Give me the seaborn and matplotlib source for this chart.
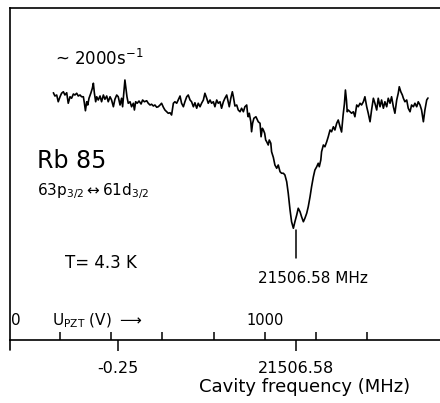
import numpy as np
import pandas as pd
import matplotlib
matplotlib.use("Agg")
import matplotlib.pyplot as plt
import matplotlib.transforms as mtransforms
import seaborn as sns

# ---- data ----
# piezo voltage U_PZT (V)
u_pzt = [175, 181, 188, 194, 201, 207, 214, 220, 227, 233,
         240, 246, 253, 259, 266, 272, 279, 285, 292, 296,
         300, 305, 309, 314, 321, 327, 331, 335, 340, 344,
         350, 357, 363, 370, 376, 383, 389, 396, 402, 409,
         415, 422, 428, 435, 441, 445, 449, 454, 458, 462,
         467, 474, 480, 487, 491, 496, 502, 509, 517, 523,
         530, 539, 545, 552, 558, 565, 571, 578, 584, 591,
         597, 604, 610, 617, 623, 630, 636, 643, 649, 656,
         662, 669, 675, 682, 688, 695, 701, 708, 714, 721,
         727, 734, 740, 747, 753, 760, 766, 773, 779, 786,
         792, 799, 805, 812, 818, 825, 831, 838, 844, 851,
         857, 861, 867, 873, 877, 883, 890, 896, 903, 909,
         916, 922, 929, 933, 935, 939, 945, 948, 952, 957,
         965, 974, 981, 985, 990, 994, 999, 1003, 1007, 1013,
         1017, 1023, 1026, 1033, 1039, 1046, 1052, 1059, 1065, 1072,
         1078, 1085, 1091, 1098, 1104, 1111, 1117, 1124, 1130, 1137,
         1143, 1150, 1156, 1163, 1169, 1176, 1182, 1189, 1195, 1202,
         1208, 1212, 1218, 1221, 1228, 1234, 1241, 1247, 1254, 1260,
         1267, 1273, 1280, 1286, 1293, 1299, 1305, 1310, 1314, 1318,
         1321, 1325, 1332, 1338, 1345, 1351, 1358, 1364, 1371, 1377,
         1384, 1390, 1397, 1403, 1410, 1416, 1423, 1429, 1436, 1442,
         1449, 1455, 1462, 1468, 1475, 1481, 1488, 1494, 1501, 1507,
         1514, 1520, 1524, 1530, 1536, 1540, 1546, 1553, 1559, 1566,
         1572, 1579, 1585, 1592, 1598, 1605, 1611, 1618, 1624, 1631,
         1636]
# count rate (s^-1)
rate = [1986, 1960, 1968, 1914, 1954, 1982, 1994, 1968, 1986, 1902,
        1954, 1942, 1976, 1968, 1982, 1960, 1968, 1954, 1954, 1902,
        1842, 1914, 1888, 1942, 1982, 2022, 2062, 1982, 1914, 1954,
        1928, 1960, 1914, 1968, 1934, 1960, 1914, 1954, 1928, 1874,
        1934, 1968, 1954, 1888, 1942, 1874, 1968, 2088, 2022, 1954,
        1902, 1914, 1874, 1902, 1848, 1914, 1902, 1920, 1896, 1928,
        1914, 1922, 1902, 1888, 1894, 1880, 1888, 1870, 1874, 1888,
        1902, 1870, 1848, 1834, 1822, 1826, 1808, 1902, 1914, 1902,
        1928, 1960, 1902, 1874, 1914, 1954, 1968, 1928, 1914, 1874,
        1906, 1862, 1902, 1874, 1902, 1928, 1982, 1942, 1902, 1928,
        1902, 1914, 1874, 1928, 1902, 1914, 1862, 1914, 1942, 1968,
        1914, 1874, 1942, 1994, 1954, 1880, 1888, 1848, 1834, 1862,
        1834, 1874, 1888, 1808, 1794, 1822, 1754, 1674, 1742, 1782,
        1794, 1754, 1742, 1634, 1702, 1688, 1662, 1608, 1594, 1568,
        1608, 1582, 1514, 1468, 1408, 1382, 1408, 1354, 1342, 1342,
        1328, 1274, 1182, 1048, 954, 902, 954, 1008, 1062, 1034,
        994, 954, 982, 1022, 1074, 1154, 1234, 1314, 1368, 1394,
        1422, 1394, 1448, 1514, 1568, 1554, 1594, 1634, 1688, 1674,
        1714, 1688, 1742, 1768, 1714, 1672, 1808, 1896, 2008, 1928,
        1834, 1848, 1834, 1822, 1834, 1794, 1888, 1874, 1902, 1888,
        1914, 1954, 1874, 1822, 1754, 1848, 1942, 1902, 1848, 1942,
        1874, 1928, 1862, 1914, 1874, 1942, 1902, 1954, 1874, 1822,
        1928, 1982, 2034, 1994, 1968, 1942, 1914, 1928, 1862, 1834,
        1888, 1874, 1902, 1874, 1914, 1888, 1848, 1754, 1848, 1928,
        1944]

upzt_ticks = [200, 400, 600, 800, 1000, 1200, 1400]
upzt_label_zero = "0"
upzt_label_value = 1000
upzt_label_text = "1000"
freq_tick_pos = [428, 1121]            # in U_PZT (V)
freq_tick_labels = ["-0.25", "21506.58"]
resonance_label = "21506.58 MHz"

df = pd.DataFrame({"U": u_pzt, "rate": rate})

# ---- style ----
sns.set_theme(style="white")
plt.rcParams["font.family"] = ["DejaVu Sans"]
plt.rcParams["mathtext.fontset"] = "dejavusans"
plt.rcParams["text.color"] = "black"
plt.rcParams["axes.labelcolor"] = "black"
plt.rcParams["xtick.color"] = "black"
plt.rcParams["xtick.labelcolor"] = "black"

W, H = 440, 403
fig = plt.figure(figsize=(W / 100, H / 100), dpi=100)
fig.patch.set_facecolor("white")
ax = fig.add_axes([10 / W, (H - 340) / H, 430 / W, 332 / H])
ax.set_facecolor("white")

sns.lineplot(data=df, x="U", y="rate", ax=ax, color="black", lw=1.2,
             sort=False, estimator=None)

ax.set_xlim(5.85, 1682.85)
ax.set_ylim(8, 2664)

for s in ["left", "top", "bottom"]:
    ax.spines[s].set_visible(True)
    ax.spines[s].set_color("black")
    ax.spines[s].set_linewidth(1.2)
ax.spines["right"].set_visible(False)

# left frame line extends slightly below the axis
ax.plot([0, 0], [0, -10 / 332], transform=ax.transAxes, color="black",
        lw=1.2, clip_on=False)

# ticks: major = cavity frequency (down), minor = U_PZT (up)
ax.set_yticks([])
ax.set_xticks(freq_tick_pos)
ax.set_xticklabels(freq_tick_labels, fontsize=11.5, color="black")
ax.set_xticks(upzt_ticks, minor=True)
ax.tick_params(axis="x", which="major", direction="out", length=8, width=1.1,
               pad=7, colors="black", bottom=True)
ax.tick_params(axis="x", which="minor", direction="in", length=6, width=1.1,
               colors="black", bottom=True, labelbottom=False)

ax.set_xlabel("Cavity frequency (MHz)", fontsize=13, color="black")
ax.xaxis.set_label_coords(0.684, -0.115)
ax.set_ylabel("")

# upper (U_PZT) scale labels
btrans = mtransforms.blended_transform_factory(ax.transData, ax.transAxes)
ax.text(0.014, 0.045, upzt_label_zero, transform=ax.transAxes, fontsize=11,
        ha="center", va="baseline", color="black")
ax.text(upzt_label_value, 0.045, upzt_label_text, transform=btrans,
        fontsize=10.5, ha="center", va="baseline", color="black")
ax.text(0.098, 0.045, r"U$_{\mathrm{PZT}}$ (V) $\longrightarrow$",
        transform=ax.transAxes, fontsize=11, ha="left", va="baseline",
        color="black")

# annotations
ax.text(0.105, 0.828, r"~ 2000s$^{-1}$", transform=ax.transAxes,
        fontsize=12, ha="left", va="baseline", color="black")
ax.text(0.063, 0.518, "Rb 85", transform=ax.transAxes, fontsize=17,
        ha="left", va="baseline", color="black")
ax.text(0.063, 0.437, r"63p$_{3/2}$$\leftrightarrow$61d$_{3/2}$",
        transform=ax.transAxes, fontsize=11, ha="left", va="baseline",
        color="black")
ax.text(0.128, 0.217, "T= 4.3 K", transform=ax.transAxes, fontsize=12,
        ha="left", va="baseline", color="black")
ax.axvline(freq_tick_pos[1], ymin=0.247, ymax=0.331, color="black", lw=1.1)
ax.text(0.577, 0.172, resonance_label, transform=ax.transAxes, fontsize=11,
        ha="left", va="baseline", color="black")

fig.savefig("out.png", dpi=100, facecolor="white")
